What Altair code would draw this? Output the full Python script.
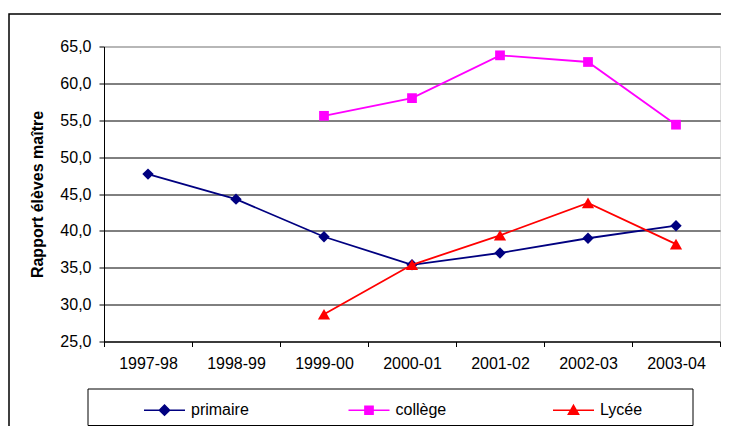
import altair as alt
import pandas as pd

years = ["1997-98", "1998-99", "1999-00", "2000-01", "2001-02", "2002-03", "2003-04"]
primaire = [47.7, 44.3, 39.2, 35.4, 37.0, 39.0, 40.7]
college = [None, None, 55.6, 58.0, 63.8, 62.9, 54.4]
lycee = [None, None, 28.7, 35.4, 39.4, 43.8, 38.2]

series_names = ["primaire", "collège", "Lycée"]
series_values = [primaire, college, lycee]
series_colors = ["#000080", "#FF00FF", "#FF0000"]
marker_shapes = ["diamond", "square", "triangle-up"]
marker_sizes = [130, 95, 150]
legend_paths = [
    "M-1,0H1M0,-0.25L0.25,0L0,0.25L-0.25,0Z",
    "M-1,0H1M-0.2,-0.2H0.2V0.2H-0.2Z",
    "M-1,0H1M0,-0.24L0.25,0.2L-0.25,0.2Z",
]
y_ticks = [25, 30, 35, 40, 45, 50, 55, 60, 65]
y_title = "Rapport élèves maître"

FONT = "Liberation Sans"

rows = []
for name, vals in zip(series_names, series_values):
    for yr, v in zip(years, vals):
        if v is not None:
            rows.append({"year": yr, "series": name, "value": v})
df = pd.DataFrame(rows)
dummy = pd.DataFrame({"k": [0]})

x_enc = alt.X(
    "year:N",
    scale=alt.Scale(type="band", domain=years, paddingInner=0, paddingOuter=0),
    axis=alt.Axis(
        title=None, labelAngle=0, tickBand="extent", tickSize=5, labelPadding=9,
        domainColor="black", tickColor="black", labelColor="black",
        labelFont=FONT, labelFontSize=16, grid=False,
    ),
)
y_enc = alt.Y(
    "value:Q",
    scale=alt.Scale(domain=[25, 65], nice=False, zero=False),
    axis=alt.Axis(
        values=y_ticks,
        labelExpr="replace(format(datum.value, '.1f'), '.', ',')",
        title=y_title, titleFont=FONT, titleFontSize=16, titleFontWeight="bold",
        titleColor="black", titlePadding=14,
        tickSize=5, labelPadding=8, domainColor="black", tickColor="black",
        labelColor="black", labelFont=FONT, labelFontSize=16,
        grid=True,
        gridColor={"condition": {"test": "datum.value === 65", "value": "#808080"}, "value": "black"},
        gridWidth=1, gridOpacity=1,
    ),
)

color_scale = alt.Scale(domain=series_names, range=series_colors)

outer = alt.Chart(dummy).mark_rect(fillOpacity=0, stroke="black", strokeWidth=1.5).encode(
    x=alt.value(-95), x2=alt.value(700), y=alt.value(-32.5), y2=alt.value(600)
)

series_layers = []
for name, col, shp, sz in zip(series_names, series_colors, marker_shapes, marker_sizes):
    base = alt.Chart(df).transform_filter(alt.datum.series == name)
    series_layers.append(
        base.mark_line(strokeWidth=1.8, color=col).encode(x=x_enc, y=y_enc)
    )
    series_layers.append(
        base.mark_point(shape=shp, filled=True, color=col, size=sz, opacity=1)
        .encode(x=x_enc, y=y_enc)
    )

leg = alt.Legend(
    title=None, orient="none", legendX=39, legendY=342, direction="horizontal",
    labelFont=FONT, labelFontSize=16, labelColor="black", labelOffset=5,
    columnPadding=96.5, gridAlign="all", symbolSize=1681, symbolStrokeWidth=1.5,
    padding=0,
)
legend_layer = alt.Chart(df).mark_point(filled=True, clip=True, opacity=1, strokeWidth=1.5).encode(
    x=x_enc,
    y=alt.value(-3000),
    fill=alt.Fill("series:N", scale=color_scale, legend=leg),
    stroke=alt.Stroke("series:N", scale=color_scale, legend=leg),
    shape=alt.Shape("series:N", scale=alt.Scale(domain=series_names, range=legend_paths), legend=leg),
)

legend_box = alt.Chart(dummy).mark_rect(fillOpacity=0, stroke="black", strokeWidth=1).encode(
    x=alt.value(-16), x2=alt.value(589), y=alt.value(342.5), y2=alt.value(379)
)

chart = alt.layer(outer, *series_layers, legend_layer, legend_box).properties(
    width=616, height=295,
    autosize=alt.AutoSizeParams(type="none"),
    padding={"left": 96, "top": 38.5, "right": 1, "bottom": 84.5},
).configure_view(
    stroke="#808080", strokeWidth=2
).configure(
    font=FONT, background="white"
)

chart.save("out.html", embed_options={"renderer": "svg", "actions": False})
